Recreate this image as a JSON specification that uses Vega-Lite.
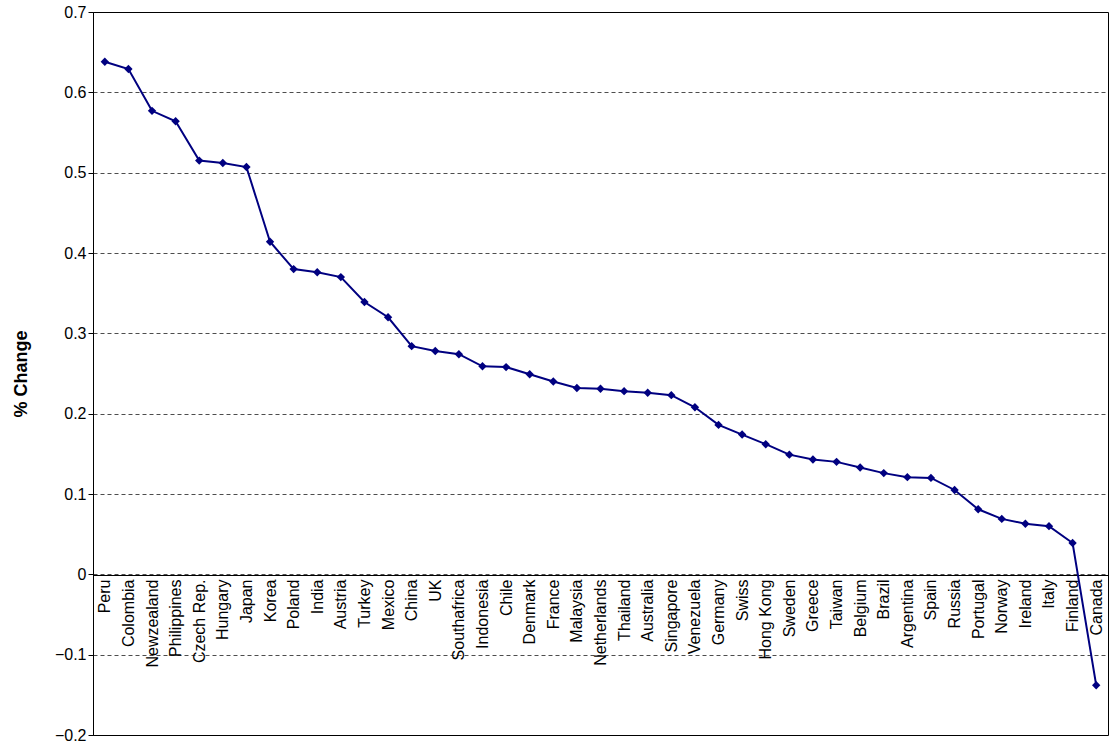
{
  "$schema": "https://vega.github.io/schema/vega-lite/v6.json",
  "autosize": "none",
  "width": 1015,
  "height": 723,
  "padding": {"left": 93, "top": 12, "right": 3, "bottom": 12},
  "background": "white",
  "config": {"view": {"stroke": "#000", "strokeWidth": 1}, "font": "Liberation Sans"},
  "data": {"values": [
    {"c": "Peru", "v": 0.638}, {"c": "Colombia", "v": 0.629}, {"c": "Newzealand", "v": 0.577},
    {"c": "Philippines", "v": 0.564}, {"c": "Czech Rep.", "v": 0.515}, {"c": "Hungary", "v": 0.512},
    {"c": "Japan", "v": 0.507}, {"c": "Korea", "v": 0.414}, {"c": "Poland", "v": 0.380},
    {"c": "India", "v": 0.376}, {"c": "Austria", "v": 0.370}, {"c": "Turkey", "v": 0.339},
    {"c": "Mexico", "v": 0.320}, {"c": "China", "v": 0.284}, {"c": "UK", "v": 0.278},
    {"c": "Southafrica", "v": 0.274}, {"c": "Indonesia", "v": 0.259}, {"c": "Chile", "v": 0.258},
    {"c": "Denmark", "v": 0.249}, {"c": "France", "v": 0.240}, {"c": "Malaysia", "v": 0.232},
    {"c": "Netherlands", "v": 0.231}, {"c": "Thailand", "v": 0.228}, {"c": "Australia", "v": 0.226},
    {"c": "Singapore", "v": 0.223}, {"c": "Venezuela", "v": 0.208}, {"c": "Germany", "v": 0.186},
    {"c": "Swiss", "v": 0.174}, {"c": "Hong Kong", "v": 0.162}, {"c": "Sweden", "v": 0.149},
    {"c": "Greece", "v": 0.143}, {"c": "Taiwan", "v": 0.140}, {"c": "Belgium", "v": 0.133},
    {"c": "Brazil", "v": 0.126}, {"c": "Argentina", "v": 0.121}, {"c": "Spain", "v": 0.120},
    {"c": "Russia", "v": 0.105}, {"c": "Portugal", "v": 0.081}, {"c": "Norway", "v": 0.069},
    {"c": "Ireland", "v": 0.063}, {"c": "Italy", "v": 0.060}, {"c": "Finland", "v": 0.039},
    {"c": "Canada", "v": -0.138}
  ]},
  "mark": {"type": "line", "color": "#000080", "strokeWidth": 2,
    "point": {"shape": "diamond", "size": 70, "filled": true, "color": "#000080"}},
  "encoding": {
    "x": {"field": "c", "type": "nominal", "sort": null,
      "scale": {"type": "point", "padding": 0.5},
      "axis": {"title": null, "offset": -160, "labelAngle": 270, "labelAlign": "right", "labelBaseline": "middle",
        "labelFontSize": 16, "labelColor": "#000", "labelPadding": 4, "ticks": false, "domainColor": "#000", "grid": false}},
    "y": {"field": "v", "type": "quantitative",
      "scale": {"domain": [-0.2, 0.7], "nice": false},
      "axis": {"title": "% Change", "titleFontSize": 18, "titleFontWeight": "bold", "titleColor": "#000", "titlePadding": 24,
        "values": [-0.2, -0.1, 0, 0.1, 0.2, 0.3, 0.4, 0.5, 0.6, 0.7], "format": "~g",
        "labelFontSize": 16, "labelColor": "#000", "tickColor": "#000", "domainColor": "#000",
        "gridColor": "#000", "gridDash": [4, 3], "gridWidth": 0.7}}
  }
}
